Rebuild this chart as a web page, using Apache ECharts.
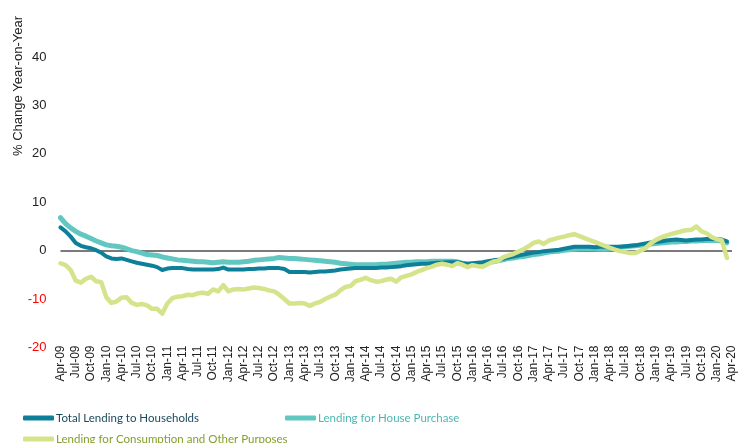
<!DOCTYPE html>
<html><head><meta charset="utf-8">
<script src="https://cdn.jsdelivr.net/npm/echarts@6/dist/echarts.min.js"></script>
<style>html,body{margin:0;padding:0;background:#fff}#c{width:738px;height:443px}</style>
</head><body><div id="c"></div>
<script>
const categories = [
  'Apr-09','May-09','Jun-09','Jul-09','Aug-09','Sep-09','Oct-09','Nov-09','Dec-09',
  'Jan-10','Feb-10','Mar-10','Apr-10','May-10','Jun-10','Jul-10','Aug-10','Sep-10','Oct-10','Nov-10','Dec-10',
  'Jan-11','Feb-11','Mar-11','Apr-11','May-11','Jun-11','Jul-11','Aug-11','Sep-11','Oct-11','Nov-11','Dec-11',
  'Jan-12','Feb-12','Mar-12','Apr-12','May-12','Jun-12','Jul-12','Aug-12','Sep-12','Oct-12','Nov-12','Dec-12',
  'Jan-13','Feb-13','Mar-13','Apr-13','May-13','Jun-13','Jul-13','Aug-13','Sep-13','Oct-13','Nov-13','Dec-13',
  'Jan-14','Feb-14','Mar-14','Apr-14','May-14','Jun-14','Jul-14','Aug-14','Sep-14','Oct-14','Nov-14','Dec-14',
  'Jan-15','Feb-15','Mar-15','Apr-15','May-15','Jun-15','Jul-15','Aug-15','Sep-15','Oct-15','Nov-15','Dec-15',
  'Jan-16','Feb-16','Mar-16','Apr-16','May-16','Jun-16','Jul-16','Aug-16','Sep-16','Oct-16','Nov-16','Dec-16',
  'Jan-17','Feb-17','Mar-17','Apr-17','May-17','Jun-17','Jul-17','Aug-17','Sep-17','Oct-17','Nov-17','Dec-17',
  'Jan-18','Feb-18','Mar-18','Apr-18','May-18','Jun-18','Jul-18','Aug-18','Sep-18','Oct-18','Nov-18','Dec-18',
  'Jan-19','Feb-19','Mar-19','Apr-19','May-19','Jun-19','Jul-19','Aug-19','Sep-19','Oct-19','Nov-19','Dec-19',
  'Jan-20','Feb-20','Mar-20','Apr-20'
];

const totalLending = [
  4.8, 4.0, 2.9, 1.6, 1.0, 0.7, 0.5, 0.1, -0.4, -1.2,
  -1.6, -1.7, -1.6, -1.9, -2.2, -2.5, -2.7, -2.9, -3.1, -3.4,
  -4.0, -3.7, -3.6, -3.6, -3.6, -3.8, -3.9, -3.9, -3.9, -3.9,
  -3.9, -3.8, -3.5, -3.9, -3.9, -3.9, -3.9, -3.8, -3.8, -3.7,
  -3.7, -3.6, -3.6, -3.6, -3.8, -4.4, -4.4, -4.4, -4.4, -4.5,
  -4.4, -4.3, -4.3, -4.2, -4.1, -3.9, -3.8, -3.7, -3.6, -3.6,
  -3.6, -3.6, -3.6, -3.5, -3.5, -3.4, -3.3, -3.2, -3.0, -2.9,
  -2.8, -2.7, -2.7, -2.6, -2.5, -2.5, -2.4, -2.4, -2.4, -2.6,
  -2.7, -2.6, -2.5, -2.4, -2.2, -2.0, -1.9, -1.7, -1.4, -1.2,
  -1.0, -0.8, -0.6, -0.4, -0.3, -0.1, 0.0, 0.1, 0.2, 0.4,
  0.6, 0.8, 0.8, 0.8, 0.8, 0.7, 0.8, 0.8, 0.8, 0.8,
  0.8, 0.9, 1.0, 1.1, 1.3, 1.5, 1.7, 1.8, 1.9, 2.1,
  2.2, 2.3, 2.2, 2.1, 2.2, 2.3, 2.3, 2.4, 2.4, 2.4,
  2.3, 1.9
];

const housePurchase = [
  6.8, 5.6, 4.7, 4.0, 3.4, 3.0, 2.5, 2.0, 1.6, 1.2,
  1.0, 0.9, 0.7, 0.4, 0.0, -0.2, -0.5, -0.8, -0.9, -1.0,
  -1.3, -1.5, -1.7, -1.9, -2.0, -2.1, -2.2, -2.3, -2.3, -2.4,
  -2.5, -2.4, -2.3, -2.4, -2.4, -2.4, -2.3, -2.2, -2.0, -1.9,
  -1.8, -1.7, -1.6, -1.4, -1.5, -1.6, -1.6, -1.7, -1.8, -1.9,
  -2.0, -2.1, -2.2, -2.3, -2.4, -2.6, -2.7, -2.8, -2.9, -2.9,
  -2.9, -2.9, -2.9, -2.8, -2.8, -2.7, -2.6, -2.5, -2.4, -2.4,
  -2.3, -2.3, -2.3, -2.2, -2.2, -2.2, -2.2, -2.2, -2.3, -2.6,
  -2.8, -2.8, -2.7, -2.6, -2.4, -2.3, -2.1, -1.9, -1.6, -1.5,
  -1.3, -1.2, -1.0, -0.8, -0.7, -0.5, -0.3, -0.2, -0.1, 0.1,
  0.2, 0.3, 0.4, 0.4, 0.4, 0.4, 0.3, 0.3, 0.4, 0.6,
  0.7, 0.8, 0.9, 1.0, 1.1, 1.2, 1.4, 1.5, 1.6, 1.7,
  1.8, 1.8, 1.9, 1.9, 2.0, 2.0, 2.1, 2.1, 2.1, 2.1,
  2.0, 1.6
];

const consumptionOther = [
  -2.6, -3.0, -4.0, -6.2, -6.6, -5.8, -5.4, -6.3, -6.5, -9.6,
  -10.8, -10.5, -9.7, -9.6, -10.8, -11.2, -11.0, -11.3, -12.0, -12.0,
  -13.0, -10.9, -9.8, -9.5, -9.4, -9.1, -9.2, -8.8, -8.7, -8.9,
  -8.0, -8.4, -7.1, -8.4, -8.0, -7.9, -8.0, -7.8, -7.6, -7.7,
  -7.9, -8.2, -8.4, -9.1, -10.0, -10.9, -10.9, -10.8, -10.9, -11.4,
  -10.9, -10.6, -10.0, -9.5, -9.1, -8.2, -7.5, -7.3, -6.3, -6.0,
  -5.6, -6.1, -6.4, -6.3, -6.0, -5.8, -6.4, -5.5, -5.2, -4.9,
  -4.4, -4.0, -3.6, -3.3, -2.9, -2.7, -2.9, -3.2, -2.6, -2.9,
  -3.4, -3.0, -3.2, -3.3, -2.8, -2.3, -2.1, -1.4, -1.0, -0.7,
  -0.2, 0.3, 0.9, 1.6, 1.9, 1.4, 2.1, 2.4, 2.7, 2.9,
  3.2, 3.4, 3.0, 2.6, 2.2, 1.8, 1.4, 1.0, 0.6, 0.2,
  -0.1, -0.3, -0.5, -0.5, 0.0, 0.5, 1.5, 2.2, 2.7, 3.1,
  3.4, 3.7, 4.0, 4.2, 4.3, 5.0, 4.0, 3.6, 2.8, 2.4,
  2.1, -1.5
];

const yMin = -20, yMax = 40, yStep = 10;

const names = {
  total: 'Total Lending to Households',
  house: 'Lending for House Purchase',
  cons: 'Lending for Consumption and Other Purposes'
};
const colors = { total: '#0e7f98', house: '#62c7c1', cons: '#d5e38b' };
const textColors = { total: '#1b4a5a', house: '#4db7b3', cons: '#84a02c' };

function legendFor(key, left, top) {
  return {
    data: [names[key]], left: left, top: top, orient: 'horizontal', padding: 0,
    icon: 'roundRect', itemWidth: 31, itemHeight: 5, selectedMode: false,
    textStyle: { color: textColors[key], fontFamily: 'Lato', fontSize: 11.5, padding: [0, 0, 0, -3] }
  };
}

const chart = echarts.init(document.getElementById('c'), null, { renderer: 'canvas' });
chart.setOption({
  animation: false,
  backgroundColor: '#fff',
  grid: { left: 60.5, right: 5.5, top: 57, bottom: 95.5, containLabel: false },
  legend: [
    legendFor('total', 23, 412),
    legendFor('house', 285, 412),
    legendFor('cons', 23, 433)
  ],
  graphic: [{
    type: 'text', x: 18, y: 86, rotation: Math.PI / 2,
    style: { text: '% Change Year-on-Year', fill: '#222', font: '13px "Liberation Sans"', textAlign: 'center', textVerticalAlign: 'middle' }
  }],
  xAxis: {
    type: 'category', data: categories, boundaryGap: false,
    axisLine: { show: false, onZero: false }, axisTick: { show: false }, splitLine: { show: false },
    axisLabel: { interval: 2, rotate: 90, fontSize: 12, color: '#222', margin: -2, fontFamily: 'Liberation Sans' }
  },
  yAxis: {
    type: 'value', min: yMin, max: yMax, interval: yStep,
    axisLine: { show: false }, axisTick: { show: false }, splitLine: { show: false },
    axisLabel: {
      margin: 14, fontSize: 13, color: '#222', fontFamily: 'Liberation Sans',
      formatter: v => v < 0 ? '{neg|' + v + '}' : String(v),
      rich: { neg: { color: '#ff0000', fontSize: 13, fontFamily: 'Liberation Sans' } }
    }
  },
  series: [
    {
      name: names.house, type: 'line', data: housePurchase, showSymbol: false, symbol: 'none',
      lineStyle: { color: colors.house, width: 5, cap: 'round', join: 'round' }, itemStyle: { color: colors.house },
      z: 2,
      markLine: {
        silent: true, symbol: ['none', 'none'], z: 1, label: { show: false },
        lineStyle: { color: '#7a7a7a', width: 2, type: 'solid' },
        data: [{ yAxis: 0 }]
      }
    },
    {
      name: names.total, type: 'line', data: totalLending, showSymbol: false, symbol: 'none',
      lineStyle: { color: colors.total, width: 4, cap: 'round', join: 'round' }, itemStyle: { color: colors.total },
      z: 3
    },
    {
      name: names.cons, type: 'line', data: consumptionOther, showSymbol: false, symbol: 'none',
      lineStyle: { color: colors.cons, width: 4.5, cap: 'round', join: 'round' }, itemStyle: { color: colors.cons },
      z: 4
    }
  ]
});
</script>
</body></html>
